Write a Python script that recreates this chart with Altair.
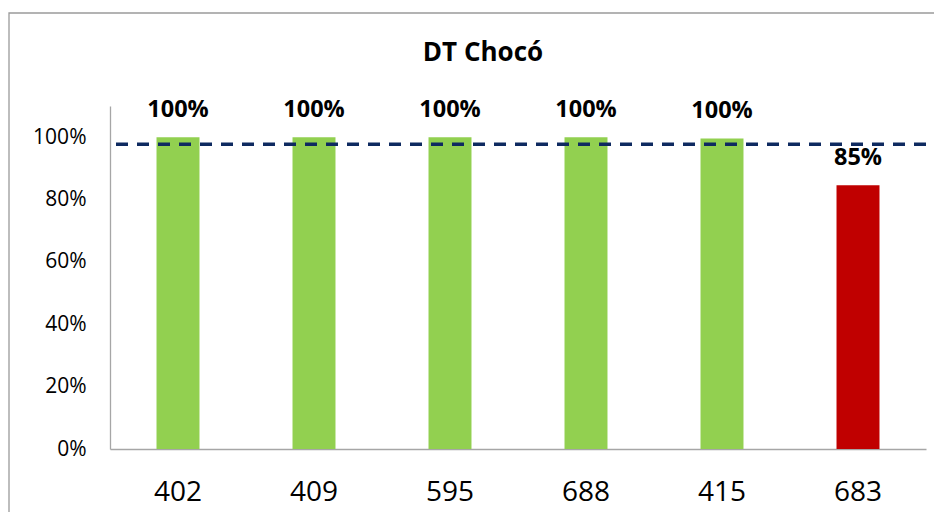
import altair as alt
import pandas as pd

categories = ["402", "409", "595", "688", "415", "683"]
values = [1.0, 1.0, 1.0, 1.0, 0.996, 0.846]
target = 0.977
y_ticks = [0, 0.2, 0.4, 0.6, 0.8, 1.0]
chart_title = "DT Chocó"

df = pd.DataFrame({"cat": categories, "value": values})
df["status"] = ["ok" if v >= target else "low" for v in values]

FONT = "Open Sans"
W, H = 816, 343

x_enc = alt.X(
    "cat:N", sort=categories,
    scale=alt.Scale(paddingInner=0.684, paddingOuter=0.342),
    axis=alt.Axis(title=None, labelAngle=0, ticks=False, labelFontSize=28,
                  labelPadding=29, labelColor="#000000", domainColor="#A6A6A6",
                  labelFont=FONT, domainWidth=1.3),
)
y_enc = alt.Y(
    "value:Q",
    scale=alt.Scale(domain=[0, 1.1], nice=False),
    axis=alt.Axis(title=None, format=".0%", values=y_ticks, grid=False, ticks=False,
                  labelFontSize=21, labelPadding=24, labelColor="#000000",
                  domainColor="#A6A6A6", labelFont=FONT, domainWidth=1.3),
)

base = alt.Chart(df)

bars = base.mark_bar().encode(
    x=x_enc, y=y_enc,
    color=alt.Color("status:N", scale=alt.Scale(domain=["ok", "low"], range=["#92D050", "#C00000"]), legend=None),
)

labels = base.mark_text(dy=-27, baseline="middle", fontWeight="bold", fontSize=23.5, font=FONT, color="#000000").encode(
    x=alt.X("cat:N", sort=categories), y="value:Q",
    text=alt.Text("value:Q", format=".0%"),
)

rule = alt.Chart(pd.DataFrame({"t": [target]})).mark_rule(
    color="#0E2A60", strokeWidth=3.5, strokeDash=[12, 9]
).encode(y="t:Q")

one = alt.Data(values=[{"title": chart_title}])

border = alt.Chart(one).mark_rect(fillOpacity=0, stroke="#9A9A9A", strokeWidth=1.3, clip=False).encode(
    x=alt.value(-101), x2=alt.value(1000), y=alt.value(-93), y2=alt.value(600)
)

title = alt.Chart(one).mark_text(fontSize=26, fontWeight="bold", font=FONT, color="#000000",
                                 baseline="middle", align="center").encode(
    x=alt.value(373), y=alt.value(-53), text="title:N"
)

chart = alt.layer(border, bars, rule, labels, title).properties(
    width=W, height=H,
    autosize=alt.AutoSizeParams(type="none"),
    padding={"left": 102, "top": 98, "right": 8, "bottom": 63},
    background="#FFFFFF",
).configure_view(strokeWidth=0)

chart.save("out.html", embed_options={"renderer": "svg", "actions": False})
